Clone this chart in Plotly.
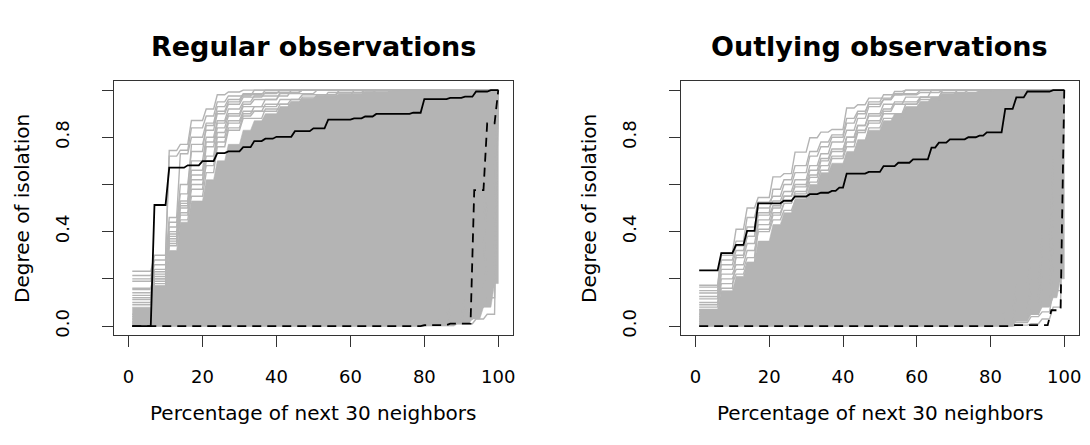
import plotly.graph_objects as go

W, H = 1090, 445
FONT = "DejaVu Sans"
GREY = "#b4b4b4"
AXIS = "#333333"

X_FIRST, X_LAST = 1, 100          # percentage of the next 30 neighbours
X_TICKS = [0, 20, 40, 60, 80, 100]
Y_TICKS = [0.0, 0.2, 0.4, 0.6, 0.8, 1.0]
Y_TICK_TEXT = ["0.0", "", "0.4", "", "0.8", ""]

# Each curve: (level at 1 %, [(percentage where a step starts, new level), ...])

# ---------------- Regular observations ----------------
reg_solid = (0.0, [(6, 0.513), (10, 0.671), (15, 0.681), (19, 0.699), (23, 0.733),
                   (26, 0.740), (30, 0.758), (33, 0.784), (36, 0.794), (39, 0.802),
                   (44, 0.826), (49, 0.838), (53, 0.875), (60, 0.880), (63, 0.888),
                   (66, 0.899), (76, 0.904), (79, 0.962), (86, 0.967), (90, 0.972),
                   (93, 0.994), (97, 1.0)])
reg_dashed = (0.0, [(79, 0.004), (86, 0.010), (92.5, 0.576), (96, 0.859), (99, 1.0)])

# solid grey mass: upper edge and lower edge
reg_core_top = (0.08, [(6, 0.17), (10, 0.32), (13, 0.44), (16, 0.53), (20, 0.62),
                       (23, 0.70), (26, 0.77), (30, 0.83), (33, 0.87), (36, 0.90),
                       (40, 0.93), (43, 0.95), (46, 0.965), (50, 0.975), (56, 0.985),
                       (63, 0.995), (70, 1.0)])
reg_core_low = (0.0, [(88, 0.01), (92, 0.03), (95, 0.08), (98, 0.18)])

# individual grey curves at the upper-left edge
reg_front = [
    (0.232, [(6, 0.30), (10, 0.744), (13, 0.770), (16, 0.871), (20, 0.920), (23, 0.980), (26, 0.992), (30, 1.0)]),
    (0.214, [(6, 0.28), (10, 0.72), (13, 0.745), (16, 0.84), (20, 0.89), (23, 0.95), (26, 0.975), (33, 1.0)]),
    (0.200, [(6, 0.26), (10, 0.46), (13, 0.73), (16, 0.80), (20, 0.86), (23, 0.93), (26, 0.96), (30, 0.985), (40, 1.0)]),
    (0.190, [(6, 0.24), (10, 0.44), (13, 0.56), (16, 0.77), (20, 0.83), (23, 0.90), (26, 0.94), (30, 0.97), (36, 0.99), (46, 1.0)]),
    (0.160, [(6, 0.23), (10, 0.42), (13, 0.60), (16, 0.74), (20, 0.85), (23, 0.91), (26, 0.95), (30, 0.98), (36, 1.0)]),
    (0.155, [(6, 0.22), (10, 0.40), (13, 0.53), (16, 0.70), (20, 0.80), (23, 0.87), (26, 0.92), (30, 0.95), (33, 0.975), (43, 1.0)]),
    (0.141, [(6, 0.21), (10, 0.38), (13, 0.50), (16, 0.62), (20, 0.76), (23, 0.84), (26, 0.89), (30, 0.93), (36, 0.96), (40, 0.985), (50, 1.0)]),
    (0.130, [(6, 0.20), (10, 0.39), (13, 0.52), (16, 0.66), (20, 0.78), (23, 0.86), (26, 0.90), (30, 0.94), (33, 0.96), (40, 0.99), (46, 1.0)]),
    (0.120, [(6, 0.20), (10, 0.36), (13, 0.47), (16, 0.58), (20, 0.70), (23, 0.80), (26, 0.86), (30, 0.90), (33, 0.93), (40, 0.96), (46, 0.98), (56, 1.0)]),
    (0.112, [(6, 0.19), (10, 0.34), (13, 0.45), (16, 0.55), (20, 0.65), (23, 0.76), (26, 0.83), (30, 0.88), (36, 0.92), (43, 0.95), (50, 0.975), (60, 1.0)]),
    (0.100, [(6, 0.18), (10, 0.35), (13, 0.48), (16, 0.60), (20, 0.68), (23, 0.78), (26, 0.84), (30, 0.89), (33, 0.91), (40, 0.94), (46, 0.97), (53, 0.99), (63, 1.0)]),
    (0.090, [(6, 0.17), (10, 0.37), (13, 0.51), (16, 0.64), (20, 0.72), (23, 0.82), (26, 0.87), (30, 0.91), (36, 0.94), (43, 0.96), (50, 0.98), (56, 0.99), (66, 1.0)]),
]

# individual grey curves at the lower-right edge
reg_late = [
    (0.000, [(80, 0.004), (86, 0.01), (93, 0.03), (96, 0.05), (99, 1.0)]),
    (0.005, [(83, 0.015), (90, 0.03), (93, 0.08), (96, 0.12), (99, 1.0)]),
    (0.010, [(86, 0.03), (90, 0.06), (93, 0.16), (96, 0.25), (99, 1.0)]),
    (0.015, [(83, 0.025), (90, 0.08), (93, 0.22), (96, 0.33), (99, 1.0)]),
    (0.020, [(86, 0.05), (93, 0.28), (96, 0.45), (99, 1.0)]),
    (0.030, [(86, 0.07), (90, 0.12), (93, 0.35), (96, 0.52), (99, 1.0)]),
    (0.040, [(90, 0.15), (93, 0.40), (96, 0.60), (99, 1.0)]),
    (0.050, [(86, 0.10), (93, 0.45), (96, 0.68), (99, 1.0)]),
]

# ---------------- Outlying observations ----------------
out_solid = (0.236, [(6, 0.309), (10, 0.344), (13, 0.403), (16, 0.520), (23, 0.531),
                     (26, 0.549), (30, 0.559), (33, 0.565), (36, 0.573), (38, 0.587),
                     (40, 0.646), (46, 0.653), (50, 0.678), (54, 0.692), (58, 0.706),
                     (63, 0.756), (65, 0.777), (68, 0.791), (73, 0.800), (76, 0.807),
                     (78, 0.821), (83, 0.920), (86, 0.969), (89, 0.994), (96, 1.0)])
out_dashed = (0.0, [(85, 0.004), (95.5, 0.067), (99, 1.0)])

out_core_top = (0.07, [(6, 0.15), (10, 0.21), (13, 0.27), (16, 0.36), (20, 0.43),
                       (23, 0.48), (26, 0.54), (30, 0.60), (33, 0.65), (36, 0.69),
                       (40, 0.74), (43, 0.79), (46, 0.83), (50, 0.87), (53, 0.90),
                       (56, 0.93), (60, 0.95), (63, 0.97), (66, 0.985), (70, 0.99), (76, 1.0)])
out_core_low = (0.0, [(86, 0.02), (90, 0.05), (93, 0.08), (96, 0.12), (98, 0.20)])

out_front = [
    (0.173, [(6, 0.31), (10, 0.41), (13, 0.50), (16, 0.545), (20, 0.632), (23, 0.646), (26, 0.737), (30, 0.798), (33, 0.822), (36, 0.833), (40, 0.924), (43, 0.938), (46, 0.966), (53, 0.994), (56, 1.0)]),
    (0.165, [(6, 0.30), (10, 0.36), (13, 0.46), (16, 0.525), (20, 0.55), (23, 0.60), (26, 0.65), (30, 0.72), (33, 0.76), (36, 0.80), (40, 0.86), (43, 0.90), (46, 0.95), (50, 0.98), (56, 1.0)]),
    (0.150, [(6, 0.28), (10, 0.34), (13, 0.42), (16, 0.50), (20, 0.53), (23, 0.57), (26, 0.62), (30, 0.68), (33, 0.73), (36, 0.78), (40, 0.83), (43, 0.88), (46, 0.93), (50, 0.96), (53, 0.985), (60, 1.0)]),
    (0.140, [(6, 0.26), (10, 0.32), (13, 0.38), (16, 0.47), (20, 0.51), (23, 0.55), (26, 0.59), (30, 0.64), (33, 0.70), (36, 0.74), (40, 0.80), (43, 0.85), (46, 0.90), (50, 0.94), (56, 0.97), (63, 1.0)]),
    (0.125, [(6, 0.24), (10, 0.29), (13, 0.35), (16, 0.43), (20, 0.48), (23, 0.52), (26, 0.56), (30, 0.61), (33, 0.66), (36, 0.71), (40, 0.76), (43, 0.82), (46, 0.87), (50, 0.91), (53, 0.94), (60, 0.97), (66, 1.0)]),
    (0.115, [(6, 0.22), (10, 0.26), (13, 0.32), (16, 0.40), (20, 0.45), (23, 0.49), (26, 0.53), (30, 0.58), (33, 0.62), (36, 0.67), (40, 0.73), (43, 0.78), (46, 0.84), (50, 0.88), (56, 0.92), (60, 0.95), (66, 0.98), (70, 1.0)]),
    (0.100, [(6, 0.20), (10, 0.24), (13, 0.29), (16, 0.45), (20, 0.50), (23, 0.55), (26, 0.60), (30, 0.66), (33, 0.71), (36, 0.75), (40, 0.80), (43, 0.85), (46, 0.89), (50, 0.92), (53, 0.95), (60, 0.97), (66, 0.99), (73, 1.0)]),
    (0.090, [(6, 0.18), (10, 0.22), (13, 0.27), (16, 0.41), (20, 0.47), (23, 0.52), (26, 0.57), (30, 0.63), (33, 0.68), (36, 0.72), (40, 0.78), (43, 0.83), (46, 0.86), (50, 0.90), (56, 0.94), (60, 0.96), (66, 0.98), (73, 0.99), (80, 1.0)]),
    (0.080, [(6, 0.16), (10, 0.30), (13, 0.38), (16, 0.48), (20, 0.58), (23, 0.62), (26, 0.68), (30, 0.74), (33, 0.78), (36, 0.81), (40, 0.88), (43, 0.91), (46, 0.94), (50, 0.96), (53, 0.98), (60, 0.99), (66, 1.0)]),
]

out_late = [
    (0.000, [(86, 0.004), (90, 0.01), (93, 0.03), (96, 0.08), (99, 1.0)]),
    (0.005, [(83, 0.015), (90, 0.04), (93, 0.06), (96, 0.15), (99, 1.0)]),
    (0.010, [(80, 0.02), (86, 0.05), (93, 0.10), (96, 0.25), (99, 1.0)]),
    (0.020, [(83, 0.04), (90, 0.09), (93, 0.16), (96, 0.35), (99, 1.0)]),
    (0.030, [(86, 0.08), (90, 0.14), (93, 0.22), (96, 0.45), (99, 1.0)]),
    (0.040, [(83, 0.07), (90, 0.20), (93, 0.30), (96, 0.55), (99, 1.0)]),
    (0.050, [(86, 0.12), (93, 0.38), (96, 0.65), (99, 1.0)]),
    (0.070, [(86, 0.18), (90, 0.28), (96, 0.72), (99, 1.0)]),
]

panels = [
    dict(title="Regular observations", solid=reg_solid, dashed=reg_dashed,
         core_top=reg_core_top, core_low=reg_core_low, curves=reg_front + reg_late),
    dict(title="Outlying observations", solid=out_solid, dashed=out_dashed,
         core_top=out_core_top, core_low=out_core_low, curves=out_front + out_late),
]


def staircase(curve, ramp=1.0):
    """Polyline of a step curve evaluated on whole percentages (each step spans one unit)."""
    level, jumps = curve
    xs, ys = [X_FIRST], [level]
    for xj, yj in jumps:
        xs += [xj, min(xj + ramp, X_LAST)]
        ys += [level, yj]
        level = yj
    if xs[-1] < X_LAST:
        xs.append(X_LAST)
        ys.append(level)
    return xs, ys


# panel frames in pixels: (left, right), shared (top, bottom)
FRAMES_X = [(114, 514), (682, 1081)]
TOP, BOTTOM = 81, 337

fig = go.Figure()

for i, p in enumerate(panels):
    xa = "x" if i == 0 else "x2"
    ya = "y" if i == 0 else "y2"

    tx, ty = staircase(p["core_top"])
    lx, ly = staircase(p["core_low"])
    fig.add_trace(go.Scatter(x=tx + lx[::-1], y=ty + ly[::-1], fill="toself",
                             fillcolor=GREY, mode="lines", line=dict(width=0.6, color=GREY),
                             hoverinfo="skip", xaxis=xa, yaxis=ya))
    for c in p["curves"]:
        cx, cy = staircase(c)
        fig.add_trace(go.Scatter(x=cx, y=cy, mode="lines", line=dict(color=GREY, width=1.4),
                                 hoverinfo="skip", xaxis=xa, yaxis=ya))
    sx, sy = staircase(p["solid"])
    fig.add_trace(go.Scatter(x=sx, y=sy, mode="lines", line=dict(color="black", width=1.8),
                             xaxis=xa, yaxis=ya))
    dx, dy = staircase(p["dashed"])
    fig.add_trace(go.Scatter(x=dx, y=dy, mode="lines",
                             line=dict(color="black", width=1.8, dash="9px,6px"),
                             xaxis=xa, yaxis=ya))

axis_common = dict(showgrid=False, zeroline=False, showline=True, mirror=True,
                   linecolor=AXIS, linewidth=1, ticks="outside", ticklen=11,
                   tickwidth=1, tickcolor=AXIS,
                   tickfont=dict(family=FONT, size=18, color="black"))

layout = dict(width=W, height=H, autosize=False, showlegend=False,
              margin=dict(l=0, r=0, t=0, b=0),
              paper_bgcolor="white", plot_bgcolor="white")

annotations = []
for i, (x0, x1) in enumerate(FRAMES_X):
    sfx = "" if i == 0 else "2"
    layout["xaxis" + sfx] = dict(axis_common, domain=[x0 / W, x1 / W], range=[-4, 104],
                                 tickvals=X_TICKS, ticklabelstandoff=14,
                                 anchor="y" + sfx)
    layout["yaxis" + sfx] = dict(axis_common, domain=[(H - BOTTOM) / H, (H - TOP) / H],
                                 range=[-0.04, 1.04], tickvals=Y_TICKS,
                                 ticktext=Y_TICK_TEXT, tickangle=-90,
                                 ticklabelstandoff=26, anchor="x" + sfx)
    cx = (x0 + x1) / 2 / W
    annotations.append(dict(text="<b>" + panels[i]["title"] + "</b>", x=cx, y=(H - 47) / H,
                            xref="paper", yref="paper", showarrow=False,
                            xanchor="center", yanchor="middle",
                            font=dict(family=FONT, size=27, color="black")))
    annotations.append(dict(text="Percentage of next 30 neighbors", x=cx, y=(H - 415) / H,
                            xref="paper", yref="paper", showarrow=False,
                            xanchor="center", yanchor="middle",
                            font=dict(family=FONT, size=20, color="black")))
    annotations.append(dict(text="Degree of isolation", x=(x0 - 92) / W,
                            y=(H - (TOP + BOTTOM) / 2) / H, textangle=-90,
                            xref="paper", yref="paper", showarrow=False,
                            xanchor="center", yanchor="middle",
                            font=dict(family=FONT, size=20, color="black")))

layout["annotations"] = annotations
fig.update_layout(**layout)
fig.write_html("out.html")
